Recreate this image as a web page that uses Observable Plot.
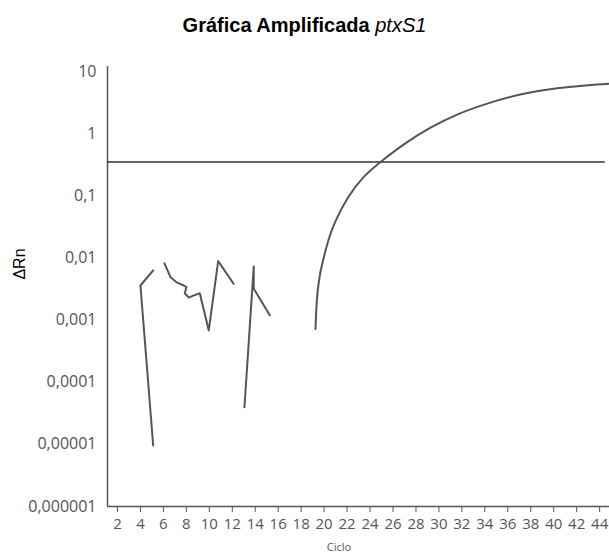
<!DOCTYPE html>
<html>
<head>
<meta charset="utf-8">
<script src="https://cdn.jsdelivr.net/npm/d3@7"></script>
<script src="https://cdn.jsdelivr.net/npm/@observablehq/plot@0.6"></script>
<style>
  html, body { margin: 0; padding: 0; background: #fff; }
  #wrap { position: relative; width: 609px; height: 552px; overflow: hidden; }
  #title { height: 50px; line-height: 50px; text-align: center; font-family: "Liberation Sans", Arial, sans-serif; font-weight: bold; font-size: 20px; color: #000; }
  #title i { font-weight: normal; }
  #xlab { position: absolute; left: 339px; top: 546px; transform: translate(-50%, -50%); font-family: "Open Sans", sans-serif; font-size: 11px; color: #555; }
  #ylab { position: absolute; left: 20px; top: 264px; transform: translate(-50%, -50%) rotate(-90deg); font-family: "Liberation Sans", Arial, sans-serif; font-size: 16px; color: #000; }
</style>
</head>
<body>
<div id="wrap">
  <div id="title">Gráfica Amplificada <i>ptxS1</i></div>
  <div id="chart"></div>
  <div id="xlab">Ciclo</div>
  <div id="ylab">ΔRn</div>
</div>
<script>
// Tick values and labels
const xTicks = [2,4,6,8,10,12,14,16,18,20,22,24,26,28,30,32,34,36,38,40,42,44];
const yTicks = [0.000001, 0.00001, 0.0001, 0.001, 0.01, 0.1, 1, 10];
const yTickLabels = ["0,000001","0,00001","0,0001","0,001","0,01","0,1","1","10"];

// Threshold
const threshold = 0.35;
const thresholdCycles = [1.13, 44.5];

// Trace 1
const t1Cycle = [5.11, 4.0, 5.11];
const t1Value = [0.0063, 0.0036, 0.0000096];

// Trace 2
const t2Cycle = [6.09, 6.62, 7.2, 7.78, 8.01, 7.86, 8.21, 8.65, 9.17, 9.95, 10.77, 12.13];
const t2Value = [0.0082, 0.0049, 0.0040, 0.0036, 0.0034, 0.0027, 0.0023, 0.0025, 0.0027, 0.00068, 0.0089, 0.0038];

// Trace 3
const t3Cycle = [13.06, 13.87, 13.87, 15.27];
const t3Value = [0.0000396, 0.0073, 0.0032, 0.0012];

// Trace 4 (amplification curve)
const t4Cycle = [19.25, 19.31, 19.40, 19.62, 19.97, 20.35, 20.84, 22.01, 23.45, 25.06, 26.94, 29.27, 31.59, 34.49, 37.39, 40.30, 43.20, 44.86];
const t4Value = [0.00072, 0.00143, 0.00265, 0.00556, 0.0103, 0.0191, 0.0354, 0.0948, 0.212, 0.370, 0.687, 1.27, 2.09, 3.21, 4.48, 5.47, 6.11, 6.34];

const toRows = (cs, vs) => cs.map((c, i) => ({cycle: c, value: vs[i]}));
const t1 = toRows(t1Cycle, t1Value);
const t2 = toRows(t2Cycle, t2Value);
const t3 = toRows(t3Cycle, t3Value);
const t4 = toRows(t4Cycle, t4Value);

const xDomain = [1.13, 44.86];
const yDomain = [0.000001, 12.04];

const lineStyle = {x: "cycle", y: "value", stroke: "#555", strokeWidth: 2};

const chart = Plot.plot({
  width: 609,
  height: 502,
  marginLeft: 107,
  marginRight: 0,
  marginTop: 16,
  marginBottom: 46,
  style: {fontFamily: "'Open Sans', sans-serif", background: "#fff"},
  x: {domain: xDomain},
  y: {type: "log", domain: yDomain},
  marks: [
    Plot.axisX({ticks: xTicks, tickSize: 6, tickPadding: 6, fontSize: 15, fill: "#555", stroke: "#555", label: null}),
    Plot.axisY({ticks: yTicks, tickSize: 0, tickPadding: 11, fontSize: 16, fill: "#555", label: null,
      tickFormat: d => yTickLabels[yTicks.findIndex(t => Math.abs(Math.log10(t) - Math.log10(d)) < 1e-6)]}),
    Plot.ruleX([xDomain[0]], {stroke: "#555", strokeWidth: 1.5}),
    Plot.ruleY([yDomain[0]], {stroke: "#555", strokeWidth: 1.5}),
    Plot.ruleY([threshold], {x1: thresholdCycles[0], x2: thresholdCycles[1], stroke: "#333", strokeWidth: 1.5}),
    Plot.line(t1, lineStyle),
    Plot.line(t2, lineStyle),
    Plot.line(t3, lineStyle),
    Plot.line(t4, {...lineStyle, curve: "basis"})
  ]
});
document.getElementById("chart").appendChild(chart);
</script>
</body>
</html>
